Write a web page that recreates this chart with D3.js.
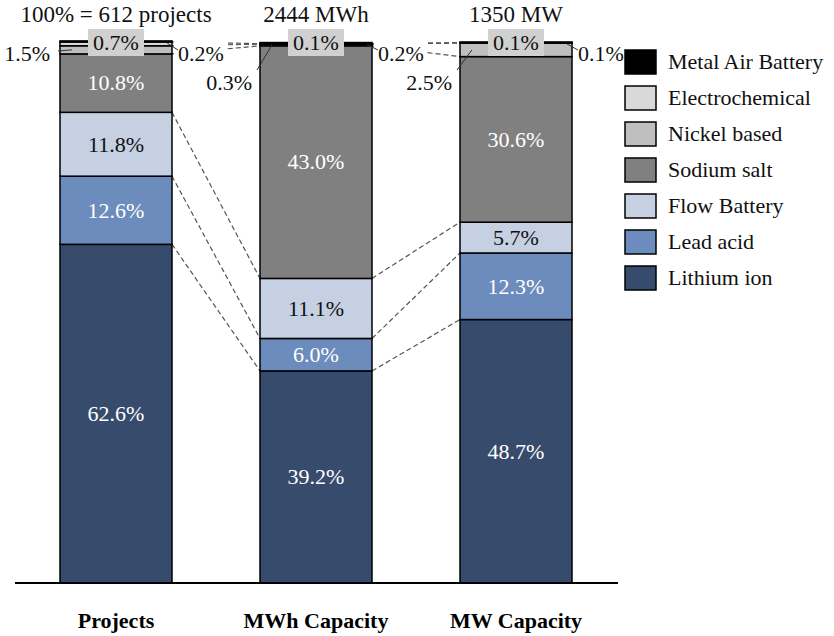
<!DOCTYPE html>
<html>
<head>
<meta charset="utf-8">
<script src="https://cdn.jsdelivr.net/npm/d3@7"></script>
</head>
<body style="margin:0">
<svg id="fig" width="834" height="636"></svg>
<script>
// Storage technology share per metric (percent)
const categories = ["Projects", "MWh Capacity", "MW Capacity"];
const totalLabels = ["100% = 612 projects", "2444 MWh", "1350 MW"];
const seriesNames = ["Lithium ion", "Lead acid", "Flow Battery", "Sodium salt",
                     "Nickel based", "Electrochemical", "Metal Air Battery"];
const lithiumIon      = [62.6, 39.2, 48.7];
const leadAcid        = [12.6, 6.0, 12.3];
const flowBattery     = [11.8, 11.1, 5.7];
const sodiumSalt      = [10.8, 43.0, 30.6];
const nickelBased     = [1.5, 0.3, 2.5];
const electrochemical = [0.7, 0.1, 0.1];
const metalAir        = [0.2, 0.2, 0.1];

const seriesValues = [lithiumIon, leadAcid, flowBattery, sodiumSalt,
                      nickelBased, electrochemical, metalAir];
const colors = ["#374b6c", "#6b8cbc", "#c5d0e3", "#808080", "#bfbfbf", "#d9d9d9", "#000000"];
const textColors = ["#fff", "#fff", "#111", "#fff", "#111", "#111", "#111"];
const FONT = '"Liberation Serif"';
const FS = 22;

const rows = categories.map((c, i) => {
  const r = { cat: c };
  seriesNames.forEach((s, k) => r[s] = seriesValues[k][i]);
  return r;
});
const stacked = d3.stack().keys(seriesNames)(rows);

const svg = d3.select("#fig").style("font-family", FONT, "important");
const x = d3.scaleBand().domain(categories).range([16, 616]).paddingInner(0.44).paddingOuter(0.22);
const y = d3.scaleLinear().domain([0, 100]).range([583, 42]);
const bw = x.bandwidth();

// dashed connectors between adjacent bars at each stack boundary
const conn = svg.append("g");
for (let i = 0; i < categories.length - 1; i++) {
  for (let k = 0; k < seriesNames.length - 1; k++) {
    conn.append("line")
      .attr("x1", x(categories[i]) + bw).attr("y1", y(stacked[k][i][1]))
      .attr("x2", x(categories[i + 1])).attr("y2", y(stacked[k][i + 1][1]))
      .attr("stroke", "#555").attr("stroke-width", 1.2)
      .attr("stroke-dasharray", "5,3");
  }
}

// stacked segments
stacked.forEach((layer, k) => {
  svg.append("g").selectAll("rect").data(layer).join("rect")
    .attr("x", d => x(d.data.cat))
    .attr("y", d => y(d[1]))
    .attr("width", bw)
    .attr("height", d => y(d[0]) - y(d[1]))
    .attr("fill", colors[k])
    .attr("stroke", "#000").attr("stroke-width", 1.5);
});

const fmt = v => d3.format(".1f")(v) + "%";
// text baseline placed ~0.33em below the wanted centre line
const label = (g, xx, yy, txt, anchor, color, size = FS) =>
  g.append("text").attr("x", xx).attr("y", yy + size * 0.33)
    .attr("text-anchor", anchor)
    .style("font-family", FONT, "important").attr("font-size", size)
    .attr("fill", color).text(txt);

// in-bar value labels for the large segments
stacked.forEach((layer, k) => {
  layer.forEach(d => {
    const v = d[1] - d[0];
    if (v < 5) return;
    label(svg, x(d.data.cat) + bw / 2, (y(d[0]) + y(d[1])) / 2, fmt(v), "middle", textColors[k]);
  });
});

// callouts for the thin top segments
const callouts = svg.append("g");
categories.forEach((c, i) => {
  const x0 = x(c), x1 = x0 + bw, cx = x0 + bw / 2;
  const nick = stacked[4][i], elec = stacked[5][i], metal = stacked[6][i];

  // Nickel based: left side
  const nMid = (y(nick[0]) + y(nick[1])) / 2;
  let lx, ly, ex, ey;
  if (i === 0) { lx = x0 - 10; ly = 54; ex = x0 - 2; ey = 51; }
  else { lx = x0 - 8; ly = 83; ex = x0 - 3; ey = 70; }
  const tl = label(callouts, lx, ly, fmt(nick[1] - nick[0]), "end", "#111");
  const bbL = tl.node().getBBox();
  callouts.insert("rect", () => tl.node())
    .attr("x", bbL.x - 2).attr("y", bbL.y - 2).attr("width", bbL.width + 4).attr("height", bbL.height + 4)
    .attr("fill", "#fff");
  callouts.append("line").attr("x1", ex).attr("y1", ey)
    .attr("x2", x0 + 12).attr("y2", nMid)
    .attr("stroke", "#333").attr("stroke-width", 1);

  // Metal Air Battery: right side
  const tr = label(callouts, x1 + 6, 54, fmt(metal[1] - metal[0]), "start", "#111");
  const bbR = tr.node().getBBox();
  callouts.insert("rect", () => tr.node())
    .attr("x", x1 + 2).attr("y", 37).attr("width", bbR.width + 6).attr("height", 34)
    .attr("fill", "#fff");
  callouts.append("line").attr("x1", x1 - 5).attr("y1", y(metal[1]) + 2)
    .attr("x2", x1 + 6).attr("y2", 50)
    .attr("stroke", "#333").attr("stroke-width", 1);

  // Electrochemical: boxed label on top
  callouts.append("rect").attr("x", cx - 28).attr("y", 29).attr("width", 56).attr("height", 27)
    .attr("fill", "#d0d0d0");
  label(callouts, cx, 43, fmt(elec[1] - elec[0]), "middle", "#111");

  // totals above each bar
  label(svg, cx, 14, totalLabels[i], "middle", "#111", 23);
});

// baseline
svg.append("line").attr("x1", 15).attr("x2", 618).attr("y1", y(0)).attr("y2", y(0))
  .attr("stroke", "#000").attr("stroke-width", 2);

// category axis labels
const axisG = svg.append("g").attr("transform", `translate(0,${y(0)})`)
  .call(d3.axisBottom(x).tickSize(0).tickPadding(29));
axisG.select(".domain").remove();
axisG.attr("font-family", null).attr("font-size", null);
axisG.selectAll("text")
  .style("font-family", FONT, "important").attr("font-size", 22)
  .attr("font-weight", "bold").attr("fill", "#000");

// legend
const legend = svg.append("g").attr("transform", "translate(625,50)");
seriesNames.slice().reverse().forEach((s, j) => {
  const k = seriesNames.length - 1 - j;
  const g = legend.append("g").attr("transform", `translate(0,${j * 36})`);
  g.append("rect").attr("width", 31).attr("height", 24)
    .attr("fill", colors[k]).attr("stroke", "#000").attr("stroke-width", 1.5);
  label(g, 43, 12, s, "start", "#111");
});
</script>
</body>
</html>
